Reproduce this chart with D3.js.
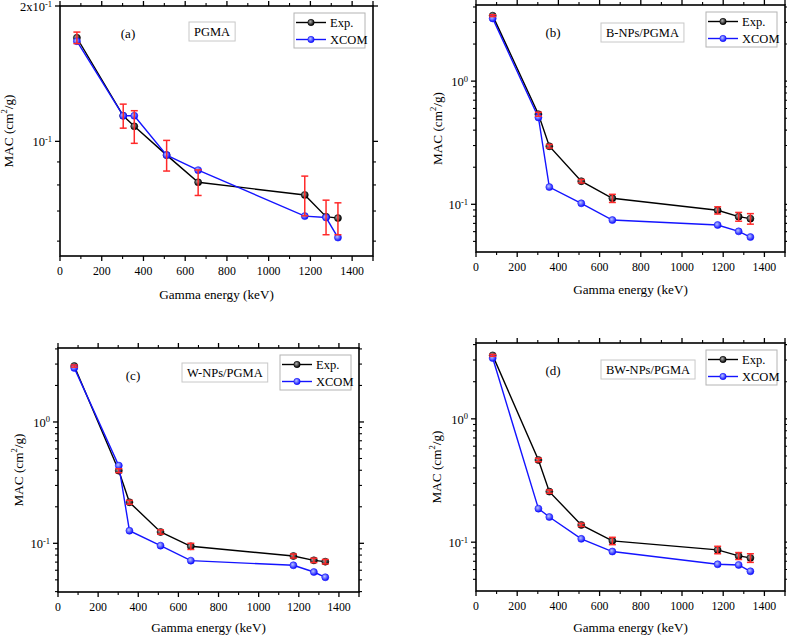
<!DOCTYPE html>
<html>
<head>
<meta charset="utf-8">
<script src="https://cdn.jsdelivr.net/npm/d3@7"></script>
<style>
  body { margin: 0; background: #fff; }
  text { font-family: "Liberation Serif", "Times New Roman", serif; fill: #000; }
</style>
</head>
<body>
<svg id="chart" width="787" height="635"></svg>
<script>
// gamma energies (keV), shared by all four panels
const energies = [81, 303, 356, 511, 662, 1173, 1275, 1332];
const xTicks = [0, 200, 400, 600, 800, 1000, 1200, 1400];
const seriesNames = ["Exp.", "XCOM"];

// (a) PGMA
const expPGMA  = [0.170, 0.114, 0.108, 0.0932, 0.0811, 0.0760, 0.0680, 0.0675];
const errPGMA  = [0.005, 0.007, 0.009, 0.0073, 0.0053, 0.0077, 0.0060, 0.0055];
const xcomPGMA = [0.167, 0.114, 0.114, 0.0932, 0.0863, 0.0682, 0.0677, 0.0611];

// (b) B-NPs/PGMA
const expB  = [3.40, 0.539, 0.296, 0.154, 0.112, 0.0894, 0.0794, 0.0765];
const errB  = [0.06, 0.020, 0.010, 0.005, 0.0085, 0.0060, 0.0065, 0.0075];
const xcomB = [3.23, 0.507, 0.138, 0.1019, 0.0745, 0.0679, 0.0603, 0.0542];

// (c) W-NPs/PGMA
const expW  = [2.89, 0.397, 0.218, 0.124, 0.0945, 0.0786, 0.0724, 0.0706];
const errW  = [0.06, 0.015, 0.008, 0.005, 0.0055, 0.0030, 0.0030, 0.0030];
const xcomW = [2.79, 0.437, 0.127, 0.0957, 0.0720, 0.0659, 0.0580, 0.0525];

// (d) BW-NPs/PGMA
const expBW  = [3.27, 0.464, 0.257, 0.138, 0.1025, 0.0866, 0.0774, 0.0746];
const errBW  = [0.06, 0.015, 0.008, 0.004, 0.0070, 0.0060, 0.0050, 0.0060];
const xcomBW = [3.11, 0.187, 0.160, 0.1064, 0.0840, 0.0662, 0.0654, 0.0581];

const panels = [
  { tag: "(a)", name: "PGMA",        exp: expPGMA, err: errPGMA, xcom: xcomPGMA, yDomain: [0.0556, 0.2],  yLabels: [0.1, 0.2] },
  { tag: "(b)", name: "B-NPs/PGMA",  exp: expB,    err: errB,    xcom: xcomB,    yDomain: [0.041, 4.15],  yLabels: [0.1, 1] },
  { tag: "(c)", name: "W-NPs/PGMA",  exp: expW,    err: errW,    xcom: xcomW,    yDomain: [0.0397, 4.07], yLabels: [0.1, 1] },
  { tag: "(d)", name: "BW-NPs/PGMA", exp: expBW,   err: errBW,   xcom: xcomBW,   yDomain: [0.0402, 4.12], yLabels: [0.1, 1] }
];

// frame boxes in pixels, kept apart from the data
const frames = [
  { left: 60,  right: 373, top: 6,   bottom: 256, tagX: 68, boxX: 129, boxY: 16, ylabX: -50, xlabY: 43 },
  { left: 476, right: 785, top: 5,   bottom: 252, tagX: 77, boxX: 125, boxY: 18, ylabX: -37, xlabY: 42 },
  { left: 58,  right: 359, top: 348, bottom: 592, tagX: 75, boxX: 124, boxY: 15, ylabX: -38, xlabY: 40 },
  { left: 476, right: 785, top: 343, bottom: 591, tagX: 77, boxX: 125, boxY: 17, ylabX: -38, xlabY: 41 }
];

const svg = d3.select("#chart");
const BLUE = "#1414ff";
const RED = "#ff2a2a";

// sphere-like marker fills
const defs = svg.append("defs");
function sphere(id, hi, lo) {
  const g = defs.append("radialGradient").attr("id", id)
    .attr("cx", "40%").attr("cy", "38%").attr("r", "60%");
  g.append("stop").attr("offset", "0%").attr("stop-color", hi);
  g.append("stop").attr("offset", "100%").attr("stop-color", lo);
}
sphere("ballBlack", "#b0b0b0", "#000");
sphere("ballBlue", "#b8c4ff", "#1010ff");

function powLabel(sel, v) {
  const e = Math.floor(Math.log10(v) + 1e-9);
  const m = Math.round(v / Math.pow(10, e));
  sel.append("tspan").text((m === 1 ? "" : m + "x") + "10");
  sel.append("tspan").attr("dy", -4.5).attr("font-size", 8.5).text(e);
}

panels.forEach((p, i) => {
  const f = frames[i];
  const x = d3.scaleLinear().domain([0, 1500]).range([f.left, f.right]);
  const y = d3.scaleLog().domain(p.yDomain).range([f.bottom, f.top]);
  const g = svg.append("g");

  // x ticks (major every 200, minor every 100) on bottom and top, outward
  const xMinor = d3.range(100, 1500, 200);
  [[f.bottom, 1], [f.top, -1]].forEach(([yy, dir]) => {
    g.selectAll(null).data(xTicks.concat([1500])).enter().append("line")
      .attr("x1", d => x(d)).attr("x2", d => x(d))
      .attr("y1", yy).attr("y2", yy + dir * 5)
      .attr("stroke", "#000").attr("stroke-width", 1.3);
    g.selectAll(null).data(xMinor).enter().append("line")
      .attr("x1", d => x(d)).attr("x2", d => x(d))
      .attr("y1", yy).attr("y2", yy + dir * 3)
      .attr("stroke", "#000").attr("stroke-width", 1.1);
  });
  g.selectAll(null).data(xTicks).enter().append("text")
    .attr("x", d => x(d)).attr("y", f.bottom + 19)
    .attr("text-anchor", "middle").attr("font-size", 11.8)
    .text(d => d);

  // y ticks: decades major, integer multiples minor, on left and right
  const [y0, y1] = p.yDomain;
  const yMinor = [];
  for (let e = Math.floor(Math.log10(y0)); e <= Math.ceil(Math.log10(y1)); e++) {
    for (let m = 1; m <= 9; m++) {
      const v = m * Math.pow(10, e);
      if (v >= y0 && v <= y1 && !p.yLabels.includes(v) && Math.abs(v - 0.1) > 1e-9 && Math.abs(v - 1) > 1e-9) yMinor.push(v);
    }
  }
  [[f.left, -1], [f.right, 1]].forEach(([xx, dir]) => {
    g.selectAll(null).data(p.yLabels).enter().append("line")
      .attr("y1", d => y(d)).attr("y2", d => y(d))
      .attr("x1", xx).attr("x2", xx + dir * 5)
      .attr("stroke", "#000").attr("stroke-width", 1.3);
    g.selectAll(null).data(yMinor).enter().append("line")
      .attr("y1", d => y(d)).attr("y2", d => y(d))
      .attr("x1", xx).attr("x2", xx + dir * 3)
      .attr("stroke", "#000").attr("stroke-width", 1.1);
  });
  g.selectAll(null).data(p.yLabels).enter().append("text")
    .attr("x", f.left - 8).attr("y", d => Math.max(y(d) + 5, 11))
    .attr("text-anchor", "end").attr("font-size", 12.5)
    .each(function (d) { powLabel(d3.select(this), d); });

  // frame
  g.append("rect")
    .attr("x", f.left).attr("y", f.top)
    .attr("width", f.right - f.left).attr("height", f.bottom - f.top)
    .attr("fill", "none").attr("stroke", "#000").attr("stroke-width", 1.6);

  // axis titles
  g.append("text")
    .attr("x", (f.left + f.right) / 2).attr("y", f.bottom + f.xlabY)
    .attr("text-anchor", "middle").attr("font-size", 13.2)
    .text("Gamma energy (keV)");
  const yl = g.append("text")
    .attr("transform", `translate(${f.left + f.ylabX},${(f.top + f.bottom) / 2}) rotate(-90)`)
    .attr("text-anchor", "middle").attr("dominant-baseline", "middle")
    .attr("font-size", 13.2);
  yl.append("tspan").text("MAC (cm");
  yl.append("tspan").attr("dy", -5).attr("font-size", 8.5).text("2");
  yl.append("tspan").attr("dy", 5).text("/g)");

  // series
  const line = d3.line().x((d, j) => x(energies[j])).y(d => y(d));
  g.append("path").datum(p.exp).attr("d", line)
    .attr("fill", "none").attr("stroke", "#000").attr("stroke-width", 1.4);
  g.selectAll(null).data(p.exp).enter().append("circle")
    .attr("cx", (d, j) => x(energies[j])).attr("cy", d => y(d)).attr("r", 3.5)
    .attr("fill", "url(#ballBlack)").attr("stroke", "#000").attr("stroke-width", 0.6);
  g.append("path").datum(p.xcom).attr("d", line)
    .attr("fill", "none").attr("stroke", BLUE).attr("stroke-width", 1.4);
  g.selectAll(null).data(p.xcom).enter().append("circle")
    .attr("cx", (d, j) => x(energies[j])).attr("cy", d => y(d)).attr("r", 3.5)
    .attr("fill", "url(#ballBlue)").attr("stroke", BLUE).attr("stroke-width", 0.6);

  // error bars on the experimental points
  const eb = g.selectAll(null).data(p.exp).enter().append("g")
    .attr("stroke", RED).attr("stroke-width", 1.5);
  eb.append("line")
    .attr("x1", (d, j) => x(energies[j])).attr("x2", (d, j) => x(energies[j]))
    .attr("y1", (d, j) => y(d + p.err[j])).attr("y2", (d, j) => y(d - p.err[j]));
  [1, -1].forEach(s => {
    eb.append("line")
      .attr("x1", (d, j) => x(energies[j]) - 3.5).attr("x2", (d, j) => x(energies[j]) + 3.5)
      .attr("y1", (d, j) => y(d + s * p.err[j])).attr("y2", (d, j) => y(d + s * p.err[j]));
  });

  // panel tag and material label
  g.append("text").attr("x", f.left + f.tagX).attr("y", f.top + 32)
    .attr("text-anchor", "middle").attr("font-size", 13).text(p.tag);
  const lab = g.append("g");
  const lt = lab.append("text").attr("x", f.left + f.boxX + 5).attr("y", f.top + f.boxY + 14)
    .attr("font-size", 12.5).text(p.name);
  const bw = lt.node().getComputedTextLength() + 10;
  lab.insert("rect", "text").attr("x", f.left + f.boxX).attr("y", f.top + f.boxY)
    .attr("width", bw).attr("height", 19)
    .attr("fill", "#fff").attr("stroke", "#c8c8c8").attr("stroke-width", 1);

  // legend
  const lx = f.right - 79, ly = f.top + 7;
  const lg = g.append("g");
  lg.append("rect").attr("x", lx).attr("y", ly).attr("width", 71).attr("height", 35)
    .attr("fill", "#fff").attr("stroke", "#b4b4b4").attr("stroke-width", 1);
  seriesNames.forEach((s, k) => {
    const yy = ly + 9.5 + k * 17;
    const col = k === 0 ? "#000" : BLUE;
    lg.append("line").attr("x1", lx + 2).attr("x2", lx + 32).attr("y1", yy).attr("y2", yy)
      .attr("stroke", col).attr("stroke-width", 1.4);
    lg.append("circle").attr("cx", lx + 17).attr("cy", yy).attr("r", 3.2)
      .attr("fill", k === 0 ? "url(#ballBlack)" : "url(#ballBlue)")
      .attr("stroke", col).attr("stroke-width", 0.6);
    lg.append("text").attr("x", lx + 36).attr("y", yy + 4.5)
      .attr("font-size", 12.5).text(s);
  });
});
</script>
</body>
</html>
